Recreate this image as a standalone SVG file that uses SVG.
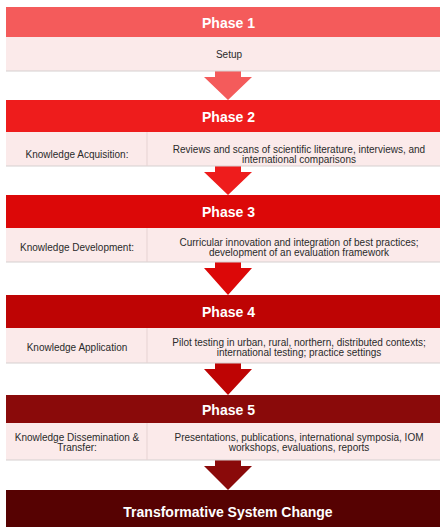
<svg xmlns="http://www.w3.org/2000/svg" width="440" height="527" viewBox="0 0 440 527">
<style>
.hd{font-family:"Liberation Sans",Arial,sans-serif;font-weight:bold;font-size:14px;fill:#fff;text-anchor:middle}
.tx{font-family:"Liberation Sans",Arial,sans-serif;font-size:10px;fill:#2a2a2a;text-anchor:middle}
.cb{fill:#FBEAEA;stroke:none}
.sh{stroke:#D6D0D0;stroke-width:1.2}
.dv{stroke:#E6D3D3;stroke-width:1}
</style>
<rect width="440" height="527" fill="#fff"/>
<g id="connectors">
<polygon points="215,71 241,71 241,77 252,77 228,100 204,77 215,77" fill="#F45B5B"/>
<polygon points="215,166 241,166 241,172 252,172 228,195 204,172 215,172" fill="#EE1C1C"/>
<polygon points="215,262 241,262 241,268 252,268 228,295 204,268 215,268" fill="#DC0808"/>
<polygon points="215,363 241,363 241,369 252,369 228,395 204,369 215,369" fill="#BE0404"/>
<polygon points="215,460 241,460 241,466 252,466 228,490 204,466 215,466" fill="#8A0A0A"/>
</g>
<g id="phase1">
<rect x="6" y="7" width="446" height="30" fill="#F45B5B"/>
<rect class="cb" x="6" y="37" width="446" height="34"/>
<line class="sh" x1="6" y1="71" x2="452" y2="71"/>
<text class="hd" x="228.5" y="27.5">Phase 1</text>
<text class="tx" x="229" y="58">Setup</text>
</g>
<g id="phase2">
<rect x="6" y="100" width="446" height="32" fill="#EE1C1C"/>
<rect class="cb" x="6" y="132" width="446" height="34"/>
<line class="sh" x1="6" y1="166" x2="452" y2="166"/>
<line class="dv" x1="147" y1="132" x2="147" y2="166"/>
<text class="hd" x="228.5" y="121.5">Phase 2</text>
<text class="tx" x="77" y="157.5">Knowledge Acquisition:</text>
<text class="tx" x="299" y="152.5">Reviews and scans of scientific literature, interviews, and</text>
<text class="tx" x="299" y="162.5">international comparisons</text>
</g>
<g id="phase3">
<rect x="6" y="195" width="446" height="33" fill="#DC0808"/>
<rect class="cb" x="6" y="228" width="446" height="34"/>
<line class="sh" x1="6" y1="262" x2="452" y2="262"/>
<line class="dv" x1="147" y1="228" x2="147" y2="262"/>
<text class="hd" x="228.5" y="216.5">Phase 3</text>
<text class="tx" x="77" y="250.5">Knowledge Development:</text>
<text class="tx" x="299" y="245.5">Curricular innovation and integration of best practices;</text>
<text class="tx" x="299" y="255.5">development of an evaluation framework</text>
</g>
<g id="phase4">
<rect x="6" y="295" width="446" height="33" fill="#BE0404"/>
<rect class="cb" x="6" y="328" width="446" height="35"/>
<line class="sh" x1="6" y1="363" x2="452" y2="363"/>
<line class="dv" x1="147" y1="328" x2="147" y2="363"/>
<text class="hd" x="228.5" y="316.5">Phase 4</text>
<text class="tx" x="77" y="350.5">Knowledge Application</text>
<text class="tx" x="299" y="345.5">Pilot testing in urban, rural, northern, distributed contexts;</text>
<text class="tx" x="299" y="355.5">international testing; practice settings</text>
</g>
<g id="phase5">
<rect x="6" y="395" width="446" height="28" fill="#8A0A0A"/>
<rect class="cb" x="6" y="423" width="446" height="37"/>
<line class="sh" x1="6" y1="460" x2="452" y2="460"/>
<line class="dv" x1="147" y1="423" x2="147" y2="460"/>
<text class="hd" x="228.5" y="415">Phase 5</text>
<text class="tx" x="77" y="440.5">Knowledge Dissemination &amp;</text>
<text class="tx" x="77" y="450.5">Transfer:</text>
<text class="tx" x="299" y="440.5">Presentations, publications, international symposia, IOM</text>
<text class="tx" x="299" y="450.5">workshops, evaluations, reports</text>
</g>
<g id="final">
<rect x="6" y="490" width="446" height="40" fill="#560202"/>
<text class="hd" x="228" y="517">Transformative System Change</text>
</g>
</svg>
